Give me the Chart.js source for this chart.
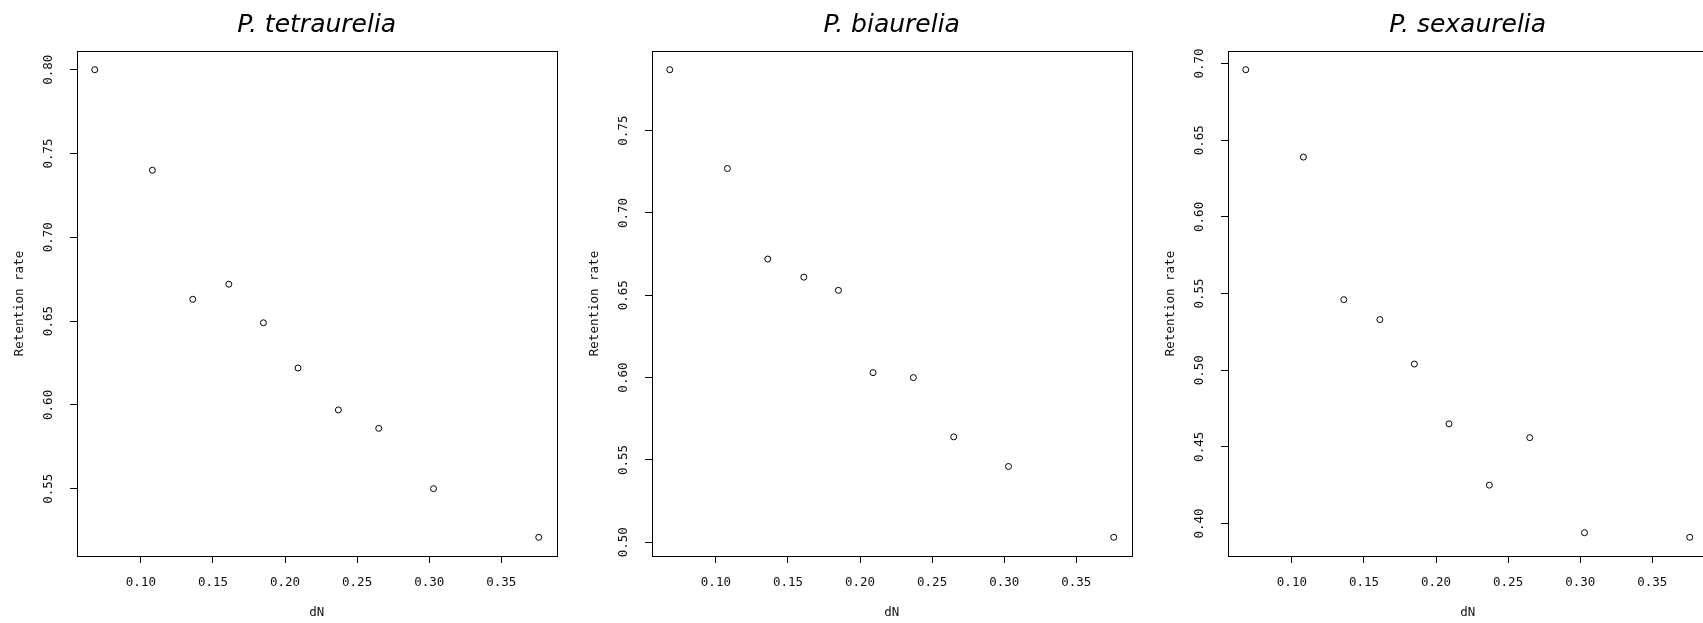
<!DOCTYPE html>
<html>
<head>
<meta charset="utf-8">
<script src="https://cdn.jsdelivr.net/npm/chart.js@4.4.1/dist/chart.umd.min.js"></script>
<style>
    html, body { margin: 0; padding: 0; background: #fff; }
    body { width: 1703px; height: 623px; overflow: hidden; position: relative; }
    canvas { position: absolute; top: 0; }
</style>
</head>
<body>
<canvas id="tetraChart" width="576" height="623" style="left:0px"></canvas>
<canvas id="biChart" width="576" height="623" style="left:575px"></canvas>
<canvas id="sexChart" width="576" height="623" style="left:1151px"></canvas>
<script>
// dN shared by all three species
const dN = [0.068, 0.108, 0.136, 0.161, 0.185, 0.209, 0.237, 0.265, 0.303, 0.376];

const tetraurelia = [0.800, 0.740, 0.663, 0.672, 0.649, 0.622, 0.597, 0.586, 0.550, 0.521];
const biaurelia   = [0.787, 0.727, 0.672, 0.661, 0.653, 0.603, 0.600, 0.564, 0.546, 0.503];
const sexaurelia  = [0.696, 0.639, 0.546, 0.533, 0.504, 0.465, 0.425, 0.456, 0.394, 0.391];

const titles = ['P. tetraurelia', 'P. biaurelia', 'P. sexaurelia'];
const xLabel = 'dN';
const yLabel = 'Retention rate';

const monoFont = "'DejaVu Sans Mono', monospace";

// R style range: data range stretched by 4% each side
function rRange(values) {
    const lo = Math.min(...values);
    const hi = Math.max(...values);
    const pad = (hi - lo) * 0.04;
    return { min: lo - pad, max: hi + pad };
}

// closed box round the plot region, like R's box()
const boxPlugin = {
    id: 'box',
    afterDraw(chart) {
        const { ctx, chartArea: a } = chart;
        ctx.save();
        ctx.strokeStyle = '#000';
        ctx.lineWidth = 1;
        ctx.strokeRect(Math.round(a.left) + 0.5, Math.round(a.top) + 0.5,
            Math.round(a.right - a.left), Math.round(a.bottom - a.top));
        ctx.restore();
    }
};

function makePlot(id, title, values) {
    const xr = rRange(dN);
    const yr = rRange(values);

    new Chart(document.getElementById(id), {
        type: 'scatter',
        data: {
            datasets: [{
                data: dN.map((x, i) => ({ x: x, y: values[i] })),
                pointStyle: 'circle',
                pointRadius: 3,
                pointBorderWidth: 1,
                borderColor: '#000',
                backgroundColor: 'rgba(0,0,0,0)'
            }]
        },
        options: {
            responsive: false,
            animation: false,
            devicePixelRatio: 1,
            layout: { padding: { left: 0, right: 19.5, top: 0, bottom: 0 } },
            plugins: {
                legend: { display: false },
                tooltip: { enabled: false },
                title: {
                    display: true,
                    text: title,
                    fullSize: false,
                    color: '#000',
                    font: { family: "'DejaVu Sans', sans-serif", size: 25, style: 'italic', weight: 'normal' },
                    padding: { top: 10.2, bottom: 10.8 }
                }
            },
            scales: {
                x: {
                    type: 'linear',
                    min: xr.min,
                    max: xr.max,
                    afterFit: scale => { scale.height = 67; },
                    border: { display: false },
                    grid: { display: true, drawOnChartArea: false, drawTicks: true, tickLength: 7, color: '#000' },
                    ticks: {
                        stepSize: 0.05,
                        includeBounds: false,
                        padding: 12,
                        color: '#111',
                        font: { family: monoFont, size: 12.5 },
                        maxRotation: 0,
                        callback: v => v.toFixed(2)
                    },
                    title: {
                        display: true,
                        text: xLabel,
                        color: '#111',
                        font: { family: monoFont, size: 12.5 },
                        padding: { top: 0, bottom: 2.5 }
                    }
                },
                y: {
                    type: 'linear',
                    min: yr.min,
                    max: yr.max,
                    afterFit: scale => { scale.width = 77; },
                    border: { display: false },
                    grid: { display: true, drawOnChartArea: false, drawTicks: true, tickLength: 7, color: '#000' },
                    ticks: {
                        stepSize: 0.05,
                        includeBounds: false,
                        minRotation: 90,
                        maxRotation: 90,
                        crossAlign: 'center',
                        padding: 5.7,
                        color: '#111',
                        font: { family: monoFont, size: 12.5 },
                        callback: v => v.toFixed(2)
                    },
                    title: {
                        display: true,
                        text: yLabel,
                        color: '#111',
                        font: { family: monoFont, size: 12.5 },
                        padding: { top: 12.5, bottom: 0 }
                    }
                }
            }
        },
        plugins: [boxPlugin]
    });
}

document.addEventListener('DOMContentLoaded', () => {
    makePlot('tetraChart', titles[0], tetraurelia);
    makePlot('biChart', titles[1], biaurelia);
    makePlot('sexChart', titles[2], sexaurelia);
});
</script>
</body>
</html>
